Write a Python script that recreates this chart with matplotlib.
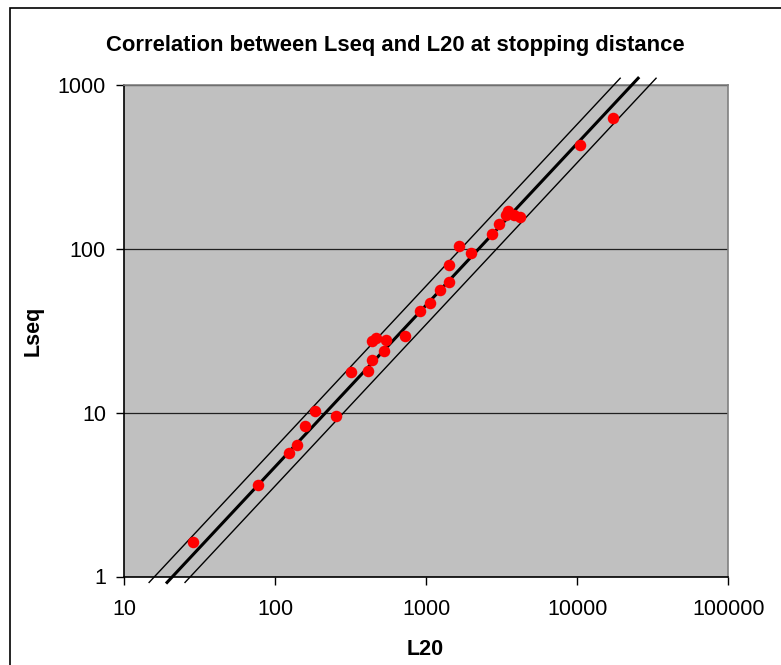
import numpy as np
import matplotlib
matplotlib.use("Agg")
import matplotlib.pyplot as plt
from matplotlib.ticker import FixedLocator, FixedFormatter, NullLocator
from matplotlib.patches import Rectangle

plt.rcParams['font.family'] = ['Liberation Sans', 'DejaVu Sans']

# Data (L20 on x, Lseq on y)
l20 = [28.6, 77.3, 123.7, 140.4, 158.3, 184.1, 252, 318.8, 410.8, 436.3,
       436, 469, 542, 529, 724, 916, 1065, 1231, 1423, 1423,
       1655, 1995, 2747, 3043, 3475, 3393, 3803, 4165, 10354, 17185]
lseq = [1.63, 3.62, 5.64, 6.34, 8.31, 10.3, 9.56, 17.8, 18.05, 20.9,
        27.4, 28.4, 27.9, 23.8, 29.5, 41.9, 46.8, 55.7, 62.9, 79.4,
        104.2, 94.0, 123.8, 141.1, 171, 161.6, 160, 156.4, 429, 632]

# Power-law trend line Lseq = coef * L20^exp, with a +/- band factor
trend_coef = 0.0496
trend_exp = 0.987
band_factor = 1.31

x_ticks = [10, 100, 1000, 10000, 100000]
x_labels = ['10', '100', '1000', '10000', '100000']
y_ticks = [1, 10, 100, 1000]
y_labels = ['1', '10', '100', '1000']

title = "Correlation between Lseq and L20 at stopping distance"
xlabel = "L20"
ylabel = "Lseq"

W, H = 781, 665
fig = plt.figure(figsize=(W / 100, H / 100), dpi=100)
fig.patch.set_facecolor('white')

left, right, top, bottom = 124.0, 728.3, 85.0, 576.5
ax = fig.add_axes([left / W, 1 - bottom / H, (right - left) / W, (bottom - top) / H])
ax.set_facecolor('#C0C0C0')
ax.set_xscale('log')
ax.set_yscale('log')
ax.set_xlim(x_ticks[0], x_ticks[-1])
ax.set_ylim(y_ticks[0], y_ticks[-1])

ax.xaxis.set_major_locator(FixedLocator(x_ticks))
ax.xaxis.set_major_formatter(FixedFormatter(x_labels))
ax.yaxis.set_major_locator(FixedLocator(y_ticks))
ax.yaxis.set_major_formatter(FixedFormatter(y_labels))
ax.xaxis.set_minor_locator(NullLocator())
ax.yaxis.set_minor_locator(NullLocator())

ax.tick_params(axis='both', direction='out', length=6, width=1, color='black',
               labelsize=15.5, labelcolor='black')
ax.tick_params(axis='x', pad=10)
ax.tick_params(axis='y', pad=7)

ax.yaxis.grid(True, color='#202020', lw=0.9)
ax.set_axisbelow(True)

for s in ['left', 'bottom']:
    ax.spines[s].set_color('black')
    ax.spines[s].set_linewidth(1.2)
for s in ['top', 'right']:
    ax.spines[s].set_color('#808080')
    ax.spines[s].set_linewidth(1.2)

# Trend lines (central and band), extending slightly beyond the plot area
y_lo, y_hi = 0.92, 1100
for f, lw in [(1.0, 2.2), (band_factor, 1.0), (1 / band_factor, 1.0)]:
    xs = np.array([(y_lo / (trend_coef * f)) ** (1 / trend_exp),
                   (y_hi / (trend_coef * f)) ** (1 / trend_exp)])
    xs = np.logspace(np.log10(xs[0]), np.log10(xs[1]), 50)
    ax.plot(xs, trend_coef * f * xs ** trend_exp, color='black', lw=lw,
            clip_on=False, zorder=3)

ax.plot(l20, lseq, linestyle='none', marker='o', ms=8.3, color='#FF0000',
        markeredgewidth=0, zorder=4)

fig.text(395.5 / W, 1 - 50.5 / H, title, ha='center', va='baseline',
         fontsize=15.8, fontweight='bold')
fig.text(425 / W, 1 - 655 / H, xlabel, ha='center', va='baseline',
         fontsize=15.5, fontweight='bold')
fig.text(33 / W, 1 - 331 / H, ylabel, ha='center', va='center', rotation=90,
         fontsize=15.5, fontweight='bold')

# Outer chart frame (extends beyond the right and bottom edges)
fig.patches.append(Rectangle((10 / W, -0.1), 2.0, (1 - 8 / H) + 0.1,
                             transform=fig.transFigure, fill=False,
                             edgecolor='black', lw=1.2))

fig.savefig('out.png', dpi=100)
